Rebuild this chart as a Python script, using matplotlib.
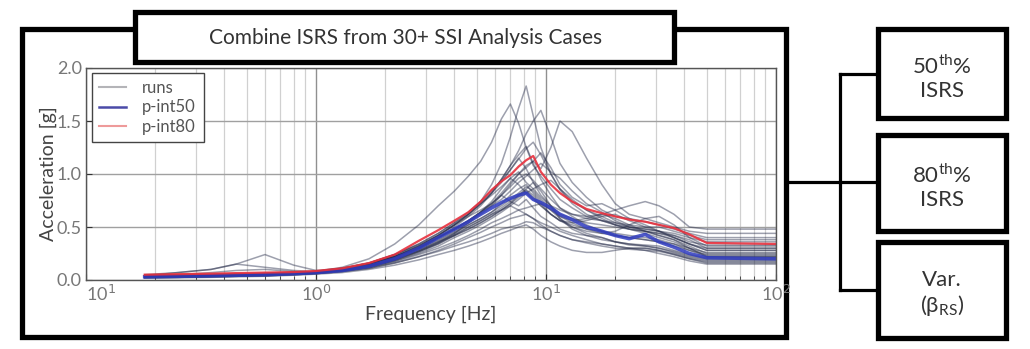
import matplotlib
matplotlib.use("Agg")
import matplotlib.pyplot as plt
from matplotlib.patches import Rectangle
from matplotlib.lines import Line2D

plt.rcParams['font.family'] = ['Lato', 'DejaVu Sans']

# frequency grid [Hz] shared by all spectra
freq = [0.18, 0.25, 0.35, 0.45, 0.6, 0.8, 1.0, 1.3, 1.7, 2.2, 2.8, 3.4, 4.0, 4.6,
        5.2, 5.8, 6.4, 7.0, 7.6, 8.2, 8.8, 9.5, 10.5, 11.5, 13, 15, 17.5, 20, 23,
        27, 31, 36, 42, 50, 100]

# individual SSI runs, spectral acceleration [g]
runs = [
    [0.04, 0.045, 0.05, 0.055, 0.06, 0.07, 0.08, 0.12, 0.20, 0.34, 0.52, 0.70, 0.84, 0.98, 1.12, 1.30, 1.52, 1.66, 1.48, 1.25, 1.08, 0.98, 0.86, 0.76, 0.68, 0.60, 0.56, 0.52, 0.50, 0.48, 0.46, 0.44, 0.40, 0.36, 0.36],
    [0.03, 0.035, 0.04, 0.045, 0.05, 0.06, 0.07, 0.10, 0.15, 0.22, 0.32, 0.42, 0.52, 0.62, 0.74, 0.90, 1.10, 1.35, 1.62, 1.83, 1.55, 1.25, 1.00, 0.85, 0.72, 0.62, 0.56, 0.52, 0.48, 0.46, 0.44, 0.42, 0.38, 0.30, 0.30],
    [0.05, 0.05, 0.055, 0.06, 0.065, 0.07, 0.08, 0.11, 0.16, 0.24, 0.34, 0.44, 0.54, 0.62, 0.72, 0.82, 0.95, 1.08, 1.22, 1.38, 1.50, 1.60, 1.35, 1.10, 0.92, 0.78, 0.66, 0.60, 0.58, 0.55, 0.52, 0.48, 0.44, 0.40, 0.40],
    [0.04, 0.04, 0.045, 0.05, 0.055, 0.065, 0.075, 0.10, 0.15, 0.22, 0.30, 0.38, 0.46, 0.54, 0.62, 0.70, 0.80, 0.90, 1.00, 1.08, 1.12, 1.05, 1.25, 1.50, 1.40, 1.15, 0.90, 0.72, 0.62, 0.58, 0.54, 0.50, 0.46, 0.44, 0.44],
    [0.05, 0.07, 0.10, 0.15, 0.24, 0.14, 0.09, 0.11, 0.15, 0.22, 0.30, 0.40, 0.50, 0.60, 0.70, 0.82, 0.95, 1.08, 1.18, 1.26, 1.10, 0.95, 0.80, 0.68, 0.60, 0.52, 0.46, 0.42, 0.40, 0.38, 0.36, 0.34, 0.30, 0.26, 0.26],
    [0.04, 0.07, 0.10, 0.15, 0.12, 0.09, 0.08, 0.10, 0.14, 0.20, 0.28, 0.36, 0.44, 0.52, 0.58, 0.64, 0.70, 0.76, 0.82, 0.88, 0.84, 0.76, 0.68, 0.60, 0.54, 0.48, 0.44, 0.42, 0.40, 0.38, 0.36, 0.32, 0.28, 0.24, 0.24],
    [0.03, 0.05, 0.07, 0.09, 0.10, 0.08, 0.07, 0.09, 0.13, 0.19, 0.27, 0.35, 0.43, 0.50, 0.56, 0.62, 0.68, 0.74, 0.80, 0.85, 0.80, 0.72, 0.62, 0.56, 0.50, 0.46, 0.44, 0.46, 0.52, 0.58, 0.60, 0.52, 0.40, 0.32, 0.32],
    [0.04, 0.04, 0.045, 0.05, 0.055, 0.06, 0.07, 0.10, 0.14, 0.21, 0.29, 0.37, 0.45, 0.52, 0.58, 0.64, 0.72, 0.80, 0.86, 0.90, 0.82, 0.74, 0.66, 0.60, 0.56, 0.58, 0.62, 0.66, 0.70, 0.74, 0.70, 0.62, 0.50, 0.48, 0.48],
    [0.035, 0.04, 0.045, 0.05, 0.055, 0.06, 0.07, 0.09, 0.13, 0.19, 0.27, 0.35, 0.44, 0.54, 0.64, 0.74, 0.86, 0.96, 1.02, 0.92, 0.86, 0.78, 0.70, 0.66, 0.62, 0.60, 0.62, 0.58, 0.52, 0.46, 0.42, 0.38, 0.32, 0.25, 0.25],
    [0.04, 0.045, 0.05, 0.055, 0.06, 0.065, 0.075, 0.10, 0.14, 0.21, 0.30, 0.40, 0.48, 0.56, 0.64, 0.70, 0.76, 0.84, 0.92, 0.98, 1.04, 1.10, 1.02, 0.96, 0.84, 0.72, 0.64, 0.56, 0.50, 0.46, 0.42, 0.38, 0.30, 0.22, 0.22],
    [0.02, 0.025, 0.03, 0.035, 0.04, 0.05, 0.06, 0.08, 0.11, 0.16, 0.22, 0.28, 0.34, 0.40, 0.45, 0.50, 0.54, 0.58, 0.60, 0.62, 0.58, 0.52, 0.46, 0.42, 0.38, 0.35, 0.32, 0.30, 0.29, 0.28, 0.27, 0.24, 0.20, 0.17, 0.17],
    [0.02, 0.02, 0.025, 0.03, 0.035, 0.045, 0.055, 0.07, 0.10, 0.14, 0.19, 0.24, 0.28, 0.32, 0.36, 0.40, 0.44, 0.47, 0.50, 0.52, 0.48, 0.42, 0.36, 0.32, 0.28, 0.26, 0.26, 0.28, 0.30, 0.28, 0.25, 0.22, 0.18, 0.15, 0.15],
    [0.03, 0.035, 0.04, 0.045, 0.05, 0.06, 0.07, 0.09, 0.13, 0.20, 0.28, 0.36, 0.42, 0.48, 0.54, 0.60, 0.66, 0.72, 0.80, 0.86, 0.92, 0.84, 0.70, 0.58, 0.48, 0.42, 0.38, 0.36, 0.34, 0.32, 0.30, 0.26, 0.22, 0.19, 0.19],
    [0.03, 0.035, 0.04, 0.045, 0.05, 0.06, 0.07, 0.10, 0.14, 0.22, 0.32, 0.42, 0.52, 0.60, 0.66, 0.72, 0.80, 0.74, 0.70, 0.76, 0.68, 0.60, 0.54, 0.48, 0.44, 0.42, 0.40, 0.36, 0.34, 0.33, 0.32, 0.28, 0.24, 0.21, 0.21],
    [0.04, 0.045, 0.05, 0.055, 0.06, 0.07, 0.08, 0.11, 0.16, 0.24, 0.34, 0.44, 0.54, 0.64, 0.74, 0.84, 0.94, 1.04, 1.14, 1.24, 1.30, 1.18, 1.00, 0.86, 0.74, 0.66, 0.60, 0.54, 0.50, 0.48, 0.46, 0.42, 0.36, 0.33, 0.33],
    [0.03, 0.035, 0.04, 0.045, 0.05, 0.06, 0.07, 0.09, 0.12, 0.18, 0.25, 0.32, 0.40, 0.46, 0.52, 0.58, 0.64, 0.70, 0.76, 0.82, 0.86, 0.90, 0.94, 0.86, 0.76, 0.66, 0.58, 0.52, 0.48, 0.46, 0.44, 0.40, 0.34, 0.28, 0.28],
    [0.025, 0.03, 0.035, 0.04, 0.045, 0.055, 0.065, 0.085, 0.12, 0.18, 0.26, 0.34, 0.42, 0.50, 0.56, 0.62, 0.66, 0.70, 0.66, 0.62, 0.58, 0.54, 0.50, 0.46, 0.42, 0.38, 0.34, 0.32, 0.30, 0.30, 0.28, 0.25, 0.21, 0.18, 0.18],
    [0.04, 0.045, 0.05, 0.055, 0.06, 0.07, 0.08, 0.11, 0.16, 0.24, 0.33, 0.42, 0.52, 0.62, 0.72, 0.82, 0.92, 1.04, 1.15, 1.05, 0.92, 0.80, 0.70, 0.62, 0.58, 0.54, 0.52, 0.50, 0.48, 0.44, 0.40, 0.36, 0.30, 0.23, 0.23],
    [0.03, 0.035, 0.04, 0.045, 0.05, 0.06, 0.07, 0.09, 0.13, 0.19, 0.27, 0.34, 0.42, 0.48, 0.54, 0.60, 0.66, 0.72, 0.78, 0.84, 0.78, 0.70, 0.62, 0.56, 0.54, 0.56, 0.60, 0.62, 0.56, 0.50, 0.46, 0.40, 0.34, 0.30, 0.30],
    [0.03, 0.03, 0.035, 0.04, 0.045, 0.055, 0.065, 0.085, 0.12, 0.17, 0.24, 0.30, 0.36, 0.42, 0.48, 0.54, 0.58, 0.62, 0.66, 0.68, 0.70, 0.72, 0.66, 0.58, 0.50, 0.44, 0.40, 0.36, 0.33, 0.32, 0.30, 0.27, 0.23, 0.20, 0.20],
    [0.035, 0.04, 0.045, 0.05, 0.055, 0.065, 0.075, 0.10, 0.15, 0.22, 0.31, 0.40, 0.48, 0.56, 0.64, 0.72, 0.80, 0.88, 0.96, 1.00, 0.94, 0.86, 0.76, 0.68, 0.62, 0.58, 0.56, 0.54, 0.52, 0.50, 0.50, 0.46, 0.42, 0.38, 0.38],
    [0.02, 0.025, 0.03, 0.035, 0.04, 0.05, 0.06, 0.08, 0.11, 0.16, 0.22, 0.27, 0.32, 0.36, 0.40, 0.44, 0.48, 0.50, 0.52, 0.55, 0.54, 0.50, 0.46, 0.42, 0.38, 0.36, 0.34, 0.32, 0.30, 0.30, 0.28, 0.24, 0.20, 0.16, 0.16],
    [0.035, 0.04, 0.045, 0.05, 0.055, 0.065, 0.075, 0.10, 0.15, 0.23, 0.32, 0.42, 0.52, 0.62, 0.72, 0.80, 0.88, 0.96, 0.90, 0.82, 0.76, 0.70, 0.62, 0.56, 0.52, 0.48, 0.46, 0.44, 0.42, 0.40, 0.38, 0.34, 0.28, 0.22, 0.22],
    [0.04, 0.045, 0.05, 0.055, 0.06, 0.07, 0.08, 0.10, 0.15, 0.22, 0.31, 0.40, 0.48, 0.56, 0.64, 0.72, 0.82, 0.92, 1.00, 1.06, 1.12, 1.20, 1.06, 0.90, 0.78, 0.70, 0.72, 0.66, 0.58, 0.52, 0.46, 0.40, 0.34, 0.28, 0.28],
]

# 50th and 80th percentile spectra
p_int50 = [0.03, 0.035, 0.04, 0.045, 0.05, 0.06, 0.07, 0.09, 0.13, 0.20, 0.30, 0.40, 0.48, 0.55, 0.62, 0.68, 0.73, 0.77, 0.80, 0.82, 0.76, 0.73, 0.68, 0.62, 0.57, 0.50, 0.46, 0.42, 0.39, 0.43, 0.36, 0.31, 0.25, 0.21, 0.20]
p_int80 = [0.05, 0.055, 0.06, 0.065, 0.07, 0.075, 0.085, 0.11, 0.16, 0.24, 0.37, 0.47, 0.56, 0.64, 0.74, 0.85, 0.93, 0.99, 1.07, 1.13, 1.17, 1.02, 0.90, 0.82, 0.74, 0.67, 0.63, 0.60, 0.57, 0.55, 0.52, 0.49, 0.43, 0.35, 0.34]

xtick_vals = [0.1, 1, 10, 100]
xtick_labels = ['10$^{1}$', '10$^{0}$', '10$^{1}$', '10$^{2}$']
ytick_vals = [0.0, 0.5, 1.0, 1.5, 2.0]

title = 'Combine ISRS from 30+ SSI Analysis Cases'
box_labels = ['50$^{\\mathregular{th}}$%\nISRS',
              '80$^{\\mathregular{th}}$%\nISRS',
              'Var.\n(β$_{\\mathregular{RS}}$)']

W, H = 1030, 349
fig = plt.figure(figsize=(W / 100, H / 100), dpi=100)

# background layer in pixel coordinates for frames and connectors
bg = fig.add_axes([0, 0, 1, 1], zorder=0)
bg.set_xlim(0, W)
bg.set_ylim(H, 0)
bg.axis('off')

frame_lw = 3.8
bg.add_patch(Rectangle((22, 29), 764, 308, fill=False, ec='black', lw=frame_lw))
bg.add_patch(Rectangle((135, 12), 539, 50, fc='white', ec='black', lw=frame_lw, zorder=3))
bg.text(406, 38, title, ha='center', va='center', fontsize=15, color='#333333', zorder=4)

# right-hand output boxes
boxes = [(29, 118), (135, 231), (242, 338)]
for (top, bot), lab in zip(boxes, box_labels):
    bg.add_patch(Rectangle((878, top), 128, bot - top, fc='white', ec='black', lw=frame_lw))
    bg.text(942, (top + bot) / 2 + 4, lab, ha='center', va='center', fontsize=16,
            color='#333333', linespacing=1.2)

# connector tree
conn_lw = 2.3
bg.plot([788, 840], [182, 182], color='black', lw=conn_lw)
bg.plot([840, 840], [74, 290], color='black', lw=conn_lw)
for yy in [74, 182, 290]:
    bg.plot([840, 878], [yy, yy], color='black', lw=conn_lw)

# spectra plot
ax = fig.add_axes([86 / W, 1 - 280 / H, 690 / W, 212 / H], zorder=1)
ax.set_xscale('log')
ax.set_xlim(0.1, 100)
ax.set_ylim(0, 2.0)

for r in runs:
    ax.plot(freq, r, color='#262c4a', lw=1.1, alpha=0.45)
ax.plot(freq, p_int50, color='#2f3bbf', lw=2.6, alpha=0.85)
ax.plot(freq, p_int80, color='#e8313e', lw=1.6, alpha=0.9)

ax.grid(True, which='major', axis='y', color='#a0a0a0', lw=1.0)
ax.grid(True, which='major', axis='x', color='#909090', lw=1.0)
ax.grid(True, which='minor', axis='x', color='#d0d0d0', lw=0.9)
ax.set_axisbelow(True)

ax.set_xticks(xtick_vals)
ax.set_xticklabels(xtick_labels)
ax.set_yticks(ytick_vals)
ax.set_yticklabels([f'{v:.1f}' for v in ytick_vals])
ax.tick_params(which='both', direction='in', color='#333333', labelcolor='#777777',
               labelsize=13, pad=3)
ax.tick_params(which='major', length=4)
ax.tick_params(which='minor', length=3)
ax.get_xticklabels()[0].set_horizontalalignment('left')
for s in ax.spines.values():
    s.set_color('#555555')
    s.set_linewidth(1.0)

ax.set_xlabel('Frequency [Hz]', fontsize=14, color='#444444', labelpad=1)
ax.set_ylabel('Acceleration [g]', fontsize=14, color='#444444', labelpad=0)

# legend handles are drawn lighter than the plotted lines
handles = [Line2D([], [], color='#b4b4b8', lw=1.5),
           Line2D([], [], color='#4a4aa8', lw=1.8),
           Line2D([], [], color='#ee9a9a', lw=1.5)]
leg = ax.legend(handles, ['runs', 'p-int50', 'p-int80'], loc='upper left',
                bbox_to_anchor=(0.008, 0.978), fancybox=False, framealpha=1,
                edgecolor='#444444', fontsize=12, handlelength=1.6, handletextpad=1.0,
                borderpad=0.45, labelspacing=0.2, borderaxespad=0)
for t in leg.get_texts():
    t.set_color('#555555')
leg.get_frame().set_linewidth(1.0)

fig.savefig('out.png', dpi=100)
